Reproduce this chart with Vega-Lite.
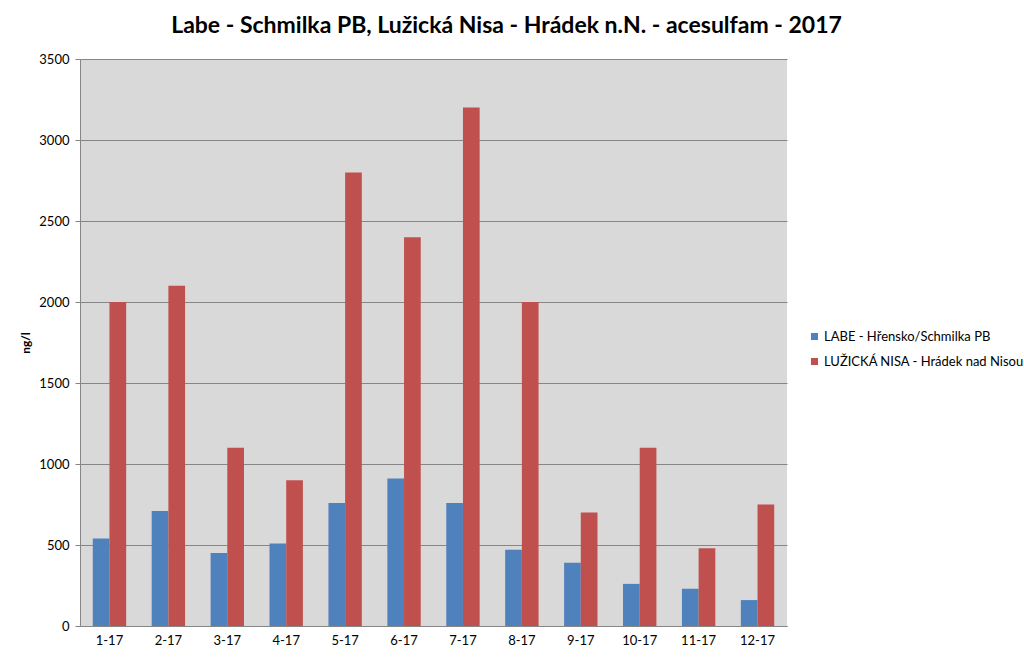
{
  "$schema": "https://vega.github.io/schema/vega-lite/v6.json",
  "width": 707,
  "height": 567,
  "autosize": {"type": "none"},
  "padding": {"left": 80, "top": 59, "right": 237, "bottom": 36},
  "background": "white",
  "title": {
    "text": "Labe - Schmilka PB, Lužická Nisa - Hrádek n.N.  - acesulfam - 2017",
    "font": "Lato",
    "fontSize": 23,
    "fontWeight": "bold",
    "color": "#000000",
    "anchor": "middle",
    "dx": 73,
    "offset": 15
  },
  "config": {
    "view": {"fill": "#D9D9D9", "stroke": null},
    "font": "Lato"
  },
  "data": {
    "values": [
      {"month": "1-17", "site": "LABE - Hřensko/Schmilka PB", "value": 540},
      {"month": "1-17", "site": "LUŽICKÁ NISA - Hrádek nad Nisou", "value": 2000},
      {"month": "2-17", "site": "LABE - Hřensko/Schmilka PB", "value": 710},
      {"month": "2-17", "site": "LUŽICKÁ NISA - Hrádek nad Nisou", "value": 2100},
      {"month": "3-17", "site": "LABE - Hřensko/Schmilka PB", "value": 450},
      {"month": "3-17", "site": "LUŽICKÁ NISA - Hrádek nad Nisou", "value": 1100},
      {"month": "4-17", "site": "LABE - Hřensko/Schmilka PB", "value": 510},
      {"month": "4-17", "site": "LUŽICKÁ NISA - Hrádek nad Nisou", "value": 900},
      {"month": "5-17", "site": "LABE - Hřensko/Schmilka PB", "value": 760},
      {"month": "5-17", "site": "LUŽICKÁ NISA - Hrádek nad Nisou", "value": 2800},
      {"month": "6-17", "site": "LABE - Hřensko/Schmilka PB", "value": 910},
      {"month": "6-17", "site": "LUŽICKÁ NISA - Hrádek nad Nisou", "value": 2400},
      {"month": "7-17", "site": "LABE - Hřensko/Schmilka PB", "value": 760},
      {"month": "7-17", "site": "LUŽICKÁ NISA - Hrádek nad Nisou", "value": 3200},
      {"month": "8-17", "site": "LABE - Hřensko/Schmilka PB", "value": 470},
      {"month": "8-17", "site": "LUŽICKÁ NISA - Hrádek nad Nisou", "value": 2000},
      {"month": "9-17", "site": "LABE - Hřensko/Schmilka PB", "value": 390},
      {"month": "9-17", "site": "LUŽICKÁ NISA - Hrádek nad Nisou", "value": 700},
      {"month": "10-17", "site": "LABE - Hřensko/Schmilka PB", "value": 260},
      {"month": "10-17", "site": "LUŽICKÁ NISA - Hrádek nad Nisou", "value": 1100},
      {"month": "11-17", "site": "LABE - Hřensko/Schmilka PB", "value": 230},
      {"month": "11-17", "site": "LUŽICKÁ NISA - Hrádek nad Nisou", "value": 480},
      {"month": "12-17", "site": "LABE - Hřensko/Schmilka PB", "value": 160},
      {"month": "12-17", "site": "LUŽICKÁ NISA - Hrádek nad Nisou", "value": 750}
    ]
  },
  "mark": {"type": "bar"},
  "encoding": {
    "x": {
      "field": "month",
      "type": "nominal",
      "sort": null,
      "scale": {"paddingInner": 0.4333, "paddingOuter": 0.21667},
      "axis": {
        "title": null,
        "labelAngle": 0,
        "labelFontSize": 13,
        "labelColor": "#000000",
        "labelPadding": 8,
        "ticks": false,
        "domainColor": "#868686",
        "domainWidth": 1,
        "grid": false
      }
    },
    "xOffset": {"field": "site", "type": "nominal", "scale": {"paddingInner": 0, "paddingOuter": 0}},
    "y": {
      "field": "value",
      "type": "quantitative",
      "scale": {"domain": [0, 3500], "nice": false},
      "axis": {
        "title": "ng/l",
        "titleFontSize": 12,
        "titleFontWeight": "bold",
        "titleColor": "#000000",
        "titlePadding": 6,
        "values": [0, 500, 1000, 1500, 2000, 2500, 3000, 3500],
        "format": "d",
        "labelFontSize": 13,
        "labelColor": "#000000",
        "labelPadding": 6,
        "tickSize": 5,
        "tickColor": "#868686",
        "domainColor": "#868686",
        "grid": true,
        "gridColor": "#868686",
        "gridWidth": 1
      }
    },
    "color": {
      "field": "site",
      "type": "nominal",
      "scale": {
        "domain": ["LABE - Hřensko/Schmilka PB", "LUŽICKÁ NISA - Hrádek nad Nisou"],
        "range": ["#4F81BD", "#C0504D"]
      },
      "legend": {
        "title": null,
        "orient": "none",
        "legendX": 728,
        "legendY": 271,
        "symbolType": "square",
        "symbolSize": 50,
        "symbolStrokeWidth": 0,
        "labelFontSize": 13,
        "labelLimit": 0,
        "labelColor": "#000000",
        "rowPadding": 11,
        "labelOffset": 3
      }
    }
  }
}
